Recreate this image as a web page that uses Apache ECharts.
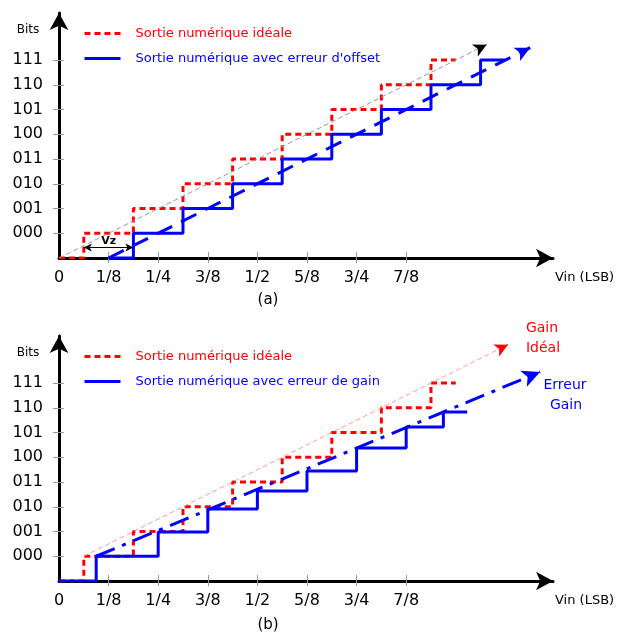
<!DOCTYPE html>
<html>
<head>
<meta charset="utf-8">
<script src="https://cdn.jsdelivr.net/npm/echarts@6/dist/echarts.min.js"></script>
<style>
  html, body { margin: 0; padding: 0; background: #fff; }
  #chart { width: 617px; height: 635px; }
</style>
</head>
<body>
<div id="chart"></div>
<script>
// tick labels
const xTickLabels = ['0', '1/8', '1/4', '3/8', '1/2', '5/8', '3/4', '7/8'];
const codeLabels = ['000', '001', '010', '011', '100', '101', '110', '111'];

// staircases: step edges (Vin, in 1/8 units) and output levels
const idealEdges = [0, 0.5, 1.5, 2.5, 3.5, 4.5, 5.5, 6.5, 7.5, 8];
const idealLevels = [0, 1, 2, 3, 4, 5, 6, 7, 8];
const offsetEdges = [1, 1.5, 2.5, 3.5, 4.5, 5.5, 6.5, 7.5, 8.5, 9];
const offsetLevels = [0, 1, 2, 3, 4, 5, 6, 7, 8];
const gainEdges = [0, 0.75, 2, 3, 4, 5, 6, 7, 7.75, 8.23];
const gainLevels = [0, 1, 1.98, 2.91, 3.64, 4.44, 5.37, 6.22, 6.83];

// straight reference lines (start, end)
const idealLineA = [[0, 0], [8.62, 8.62]];
const offsetLineA = [[1, 0], [9.5, 8.5]];
const idealLineB = [[0.5, 1], [9.05, 9.55]];
const gainLineB = [[0.75, 1], [9.7, 8.45]];
const vzSpan = [[0.5, 0.42], [1.5, 0.42]];

const nameIdeal = 'Sortie numérique idéale';
const nameOffset = "Sortie numérique avec erreur d'offset";
const nameGain = 'Sortie numérique avec erreur de gain';

const RED = '#ff0000';
const BLUE = '#0000ff';
const FONT = 'DejaVu Sans';

function stairs(edges, levels) {
  const pts = levels.map((lv, i) => [edges[i], lv]);
  pts.push([edges[edges.length - 1], levels[levels.length - 1]]);
  return pts;
}

function xAxes(grid) {
  const ticks = [1, 2, 3, 4, 5, 6, 7];
  return [
    {
      type: 'value', gridIndex: grid, position: 'bottom', min: 0, max: 9.96, interval: 1,
      splitLine: { show: false },
      axisLine: { show: true, lineStyle: { color: '#000', width: 3 }, symbol: ['none', 'arrow'], symbolSize: [14, 17] },
      axisTick: { show: true, customValues: ticks, length: 5, lineStyle: { color: '#999', width: 1 } },
      axisLabel: {
        customValues: [0, 1, 2, 3, 4, 5, 6, 7], margin: 12,
        fontFamily: FONT, fontSize: 16, color: '#000',
        formatter: v => xTickLabels[Math.round(v)]
      }
    },
    {
      type: 'value', gridIndex: grid, position: 'bottom', min: 0, max: 9.96, interval: 1,
      splitLine: { show: false },
      axisLine: { show: false },
      axisTick: { show: true, inside: true, customValues: ticks, length: 6, lineStyle: { color: '#999', width: 1 } },
      axisLabel: { show: false }
    }
  ];
}

function yAxes(grid) {
  const ticks = [1, 2, 3, 4, 5, 6, 7, 8];
  return [
    {
      type: 'value', gridIndex: grid, position: 'left', min: 0, max: 9.9, interval: 1,
      splitLine: { show: false },
      axisLine: { show: true, lineStyle: { color: '#000', width: 3 }, symbol: ['none', 'arrow'], symbolSize: [14, 17] },
      axisTick: { show: true, customValues: ticks, length: 6, lineStyle: { color: '#999', width: 1 } },
      axisLabel: {
        customValues: ticks, margin: 16,
        fontFamily: FONT, fontSize: 16, color: '#000',
        formatter: v => codeLabels[Math.round(v) - 1]
      }
    },
    {
      type: 'value', gridIndex: grid, position: 'left', min: 0, max: 9.9, interval: 1,
      splitLine: { show: false },
      axisLine: { show: false },
      axisTick: { show: true, inside: true, customValues: ticks, length: 5, lineStyle: { color: '#999', width: 1 } },
      axisLabel: { show: false }
    }
  ];
}

function stairSeries(name, xi, edges, levels, color, dashed) {
  return {
    name: name, type: 'line', step: 'end', xAxisIndex: xi, yAxisIndex: xi,
    symbol: 'none', silent: true, z: 3,
    itemStyle: { color: color },
    lineStyle: { color: color, width: 3, type: dashed ? [6, 4] : 'solid' },
    data: stairs(edges, levels)
  };
}

// straight line with an arrow head; the head may have its own colour
function arrowLine(xi, pts, color, width, dash, size, headColor) {
  const end = pts[1];
  const dx = end[0] - pts[0][0], dy = end[1] - pts[0][1];
  const near = [end[0] - dx * 0.01, end[1] - dy * 0.01];
  const lines = [[{ coord: pts[0], symbol: 'none' }, { coord: end, symbol: headColor ? 'none' : 'arrow' }]];
  if (headColor) {
    lines.push([
      { coord: near, symbol: 'none', lineStyle: { color: headColor, type: 'solid' } },
      { coord: end, symbol: 'arrow' }
    ]);
  }
  return {
    type: 'line', xAxisIndex: xi, yAxisIndex: xi, data: [], silent: true, z: 4,
    markLine: {
      silent: true, animation: false,
      symbol: ['none', 'arrow'], symbolSize: size,
      label: { show: false },
      lineStyle: { color: color, width: width, type: dash },
      emphasis: { disabled: true },
      data: lines
    }
  };
}

function legendFor(top, items) {
  return {
    orient: 'vertical', left: 83, top: top, padding: 0,
    itemWidth: 36, itemHeight: 14, itemGap: 12,
    selectedMode: false,
    itemStyle: { opacity: 0 },
    lineStyle: { width: 3 },
    textStyle: { fontFamily: FONT, fontSize: 13, padding: [0, 0, 0, 10] },
    data: items.map(it => ({ name: it[0], textStyle: { color: it[1] } }))
  };
}

function text(x, y, str, opts) {
  return {
    type: 'text', x: x, y: y, silent: true,
    style: Object.assign({ text: str, fontFamily: FONT, fontSize: 13, fill: '#000', align: 'center', verticalAlign: 'middle' }, opts || {})
  };
}

const chart = echarts.init(document.getElementById('chart'), null, { renderer: 'canvas' });

const option = {
  animation: false,
  backgroundColor: '#fff',
  grid: [
    { left: 59, top: 13, width: 494, height: 245 },
    { left: 59, top: 336, width: 494, height: 245 }
  ],
  xAxis: [...xAxes(0), ...xAxes(1)],
  yAxis: [...yAxes(0), ...yAxes(1)],
  legend: [
    legendFor(27, [[nameIdeal, RED], [nameOffset, BLUE]]),
    legendFor(350, [[nameIdeal, RED], [nameGain, BLUE]])
  ],
  series: [
    // (a) offset error
    arrowLine(0, idealLineA, '#999', 1, [5, 3], [10, 13], '#000'),
    stairSeries(nameIdeal, 0, idealEdges, idealLevels, RED, true),
    stairSeries(nameOffset, 0, offsetEdges, offsetLevels, BLUE, false),
    arrowLine(0, offsetLineA, BLUE, 3, [17, 10], [11, 15]),
    {
      type: 'line', xAxisIndex: 0, yAxisIndex: 0, data: [], silent: true, z: 5,
      markLine: {
        silent: true, animation: false,
        symbol: ['arrow', 'arrow'], symbolSize: [6, 8],
        lineStyle: { color: '#000', width: 1, type: 'solid' },
        label: {
          show: true, position: 'insideMiddleTop', distance: 1,
          formatter: 'Vz', fontFamily: FONT, fontSize: 11, fontWeight: 'bold', color: '#000'
        },
        emphasis: { disabled: true },
        data: [[{ coord: vzSpan[0] }, { coord: vzSpan[1] }]]
      }
    },
    // (b) gain error
    arrowLine(2, idealLineB, '#ff9a9a', 1, [5, 3], [10, 13], RED),
    stairSeries(nameIdeal, 2, idealEdges, idealLevels, RED, true),
    stairSeries(nameGain, 2, gainEdges, gainLevels, BLUE, false),
    arrowLine(2, gainLineB, BLUE, 3, [20, 8, 4, 8], [13, 18])
  ],
  graphic: [
    text(28, 30, 'Bits', { fontSize: 12 }),
    text(28, 353, 'Bits', { fontSize: 12 }),
    text(555, 278, 'Vin (LSB)', { align: 'left' }),
    text(555, 601, 'Vin (LSB)', { align: 'left' }),
    text(268, 300, '(a)', { fontSize: 15 }),
    text(268, 625, '(b)', { fontSize: 15 }),
    text(542, 328, 'Gain', { fontSize: 14, fill: RED }),
    text(543, 348, 'Idéal', { fontSize: 14, fill: RED }),
    text(565, 385, 'Erreur', { fontSize: 14, fill: BLUE }),
    text(566, 405, 'Gain', { fontSize: 14, fill: BLUE })
  ]
};

chart.setOption(option);
</script>
</body>
</html>
